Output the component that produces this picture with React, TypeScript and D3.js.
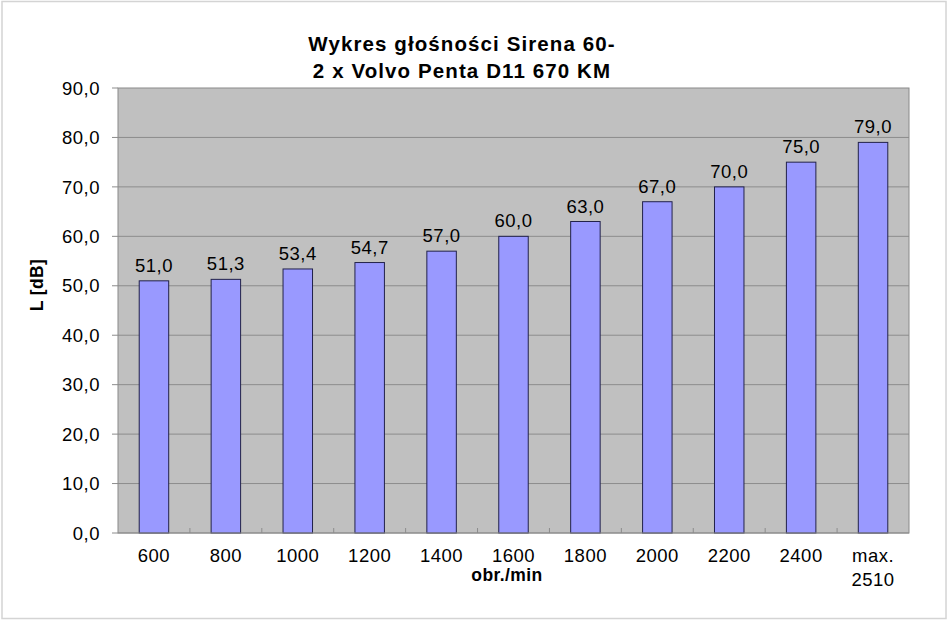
import React from "react";
import * as d3 from "d3";

// rpm steps (last one is the max. speed, split over two lines)
const categories: string[][] = [
  ["600"], ["800"], ["1000"], ["1200"], ["1400"], ["1600"],
  ["1800"], ["2000"], ["2200"], ["2400"], ["max.", "2510"],
];
const levels: number[] = [51.0, 51.3, 53.4, 54.7, 57.0, 60.0, 63.0, 67.0, 70.0, 75.0, 79.0];
const yTicks: number[] = [0, 10, 20, 30, 40, 50, 60, 70, 80, 90];
const titleLines: string[] = ["Wykres głośności Sirena 60-", "2 x Volvo Penta D11 670 KM"];

const fmt = (v: number) => v.toFixed(1).replace(".", ",");

const App: React.FC = () => {
  const width = 948;
  const height = 621;
  const margin = { top: 88, right: 39, bottom: 88, left: 118 };
  const innerWidth = width - margin.left - margin.right;
  const innerHeight = height - margin.top - margin.bottom;
  const font = "Liberation Sans, Arial, sans-serif";
  const fs = 18.5;
  const ls = 0.5;

  const keys = categories.map((c) => c.join(" "));

  const xScale = d3.scaleBand<string>().domain(keys).range([0, innerWidth]).paddingInner(0).paddingOuter(0);

  const yScale = d3.scaleLinear().domain([0, 90]).range([innerHeight, 0]);

  const barW = xScale.bandwidth() * 0.41;

  return (
    <svg
      width={width}
      height={height}
      style={{ position: "absolute", left: 0, top: 0, background: "white", fontFamily: font }}
    >
      <rect x={2} y={1.5} width={944} height={617} fill="white" stroke="#d4d4d4" strokeWidth={1.5} />

      {/* title */}
      {titleLines.map((line, i) => (
        <text
          key={i}
          x={462}
          y={51 + i * 26.5}
          textAnchor="middle"
          fontSize={20.5}
          fontWeight="bold"
          letterSpacing={1.1}
          fill="#000"
        >
          {line}
        </text>
      ))}

      <g transform={`translate(${margin.left}, ${margin.top})`}>
        <rect x={0} y={0} width={innerWidth} height={innerHeight} fill="#c0c0c0" stroke="#8a8a8a" strokeWidth={1} />

        {/* gridlines + y ticks */}
        {yTicks.map((t) => (
          <g key={t} transform={`translate(0, ${yScale(t)})`}>
            {t > 0 && t < 90 && <line x1={0} x2={innerWidth} stroke="#8c8c8c" strokeWidth={1} />}
            <line x1={-6} x2={0} stroke="#8c8c8c" strokeWidth={1} />
            <text x={-18} y={0} dy="0.36em" textAnchor="end" fontSize={fs} letterSpacing={ls} fill="#000">
              {fmt(t)}
            </text>
          </g>
        ))}

        {/* bars */}
        {levels.map((v, i) => {
          const cx = (xScale(keys[i]) ?? 0) + xScale.bandwidth() / 2;
          const y = yScale(v);
          return (
            <g key={i}>
              <rect
                x={cx - barW / 2}
                y={y}
                width={barW}
                height={innerHeight - y}
                fill="#9999ff"
                stroke="#22224a"
                strokeWidth={1}
              />
              <text x={cx} y={y - 9} textAnchor="middle" fontSize={fs} letterSpacing={ls} fill="#000">
                {fmt(v)}
              </text>
            </g>
          );
        })}

        {/* x axis */}
        <line x1={0} x2={innerWidth} y1={innerHeight} y2={innerHeight} stroke="#8c8c8c" strokeWidth={1} />
        {keys.slice(1).map((k) => (
          <line
            key={k}
            x1={xScale(k) ?? 0}
            x2={xScale(k) ?? 0}
            y1={innerHeight}
            y2={innerHeight - 5}
            stroke="#8c8c8c"
            strokeWidth={1}
          />
        ))}
        {categories.map((lines, i) => {
          const cx = (xScale(keys[i]) ?? 0) + xScale.bandwidth() / 2;
          return lines.map((l, j) => (
            <text
              key={`${i}-${j}`}
              x={cx}
              y={innerHeight + 29 + j * 24}
              textAnchor="middle"
              fontSize={fs}
              letterSpacing={ls}
              fill="#000"
            >
              {l}
            </text>
          ));
        })}
      </g>

      {/* axis titles */}
      <text x={507} y={581} textAnchor="middle" fontSize={17.5} fontWeight="bold" letterSpacing={0.4} fill="#000">
        obr./min
      </text>
      <text
        transform="translate(43, 285) rotate(-90)"
        textAnchor="middle"
        fontSize={17.5}
        fontWeight="bold"
        letterSpacing={0.4}
        fill="#000"
      >
        L [dB]
      </text>
    </svg>
  );
};

export default App;
